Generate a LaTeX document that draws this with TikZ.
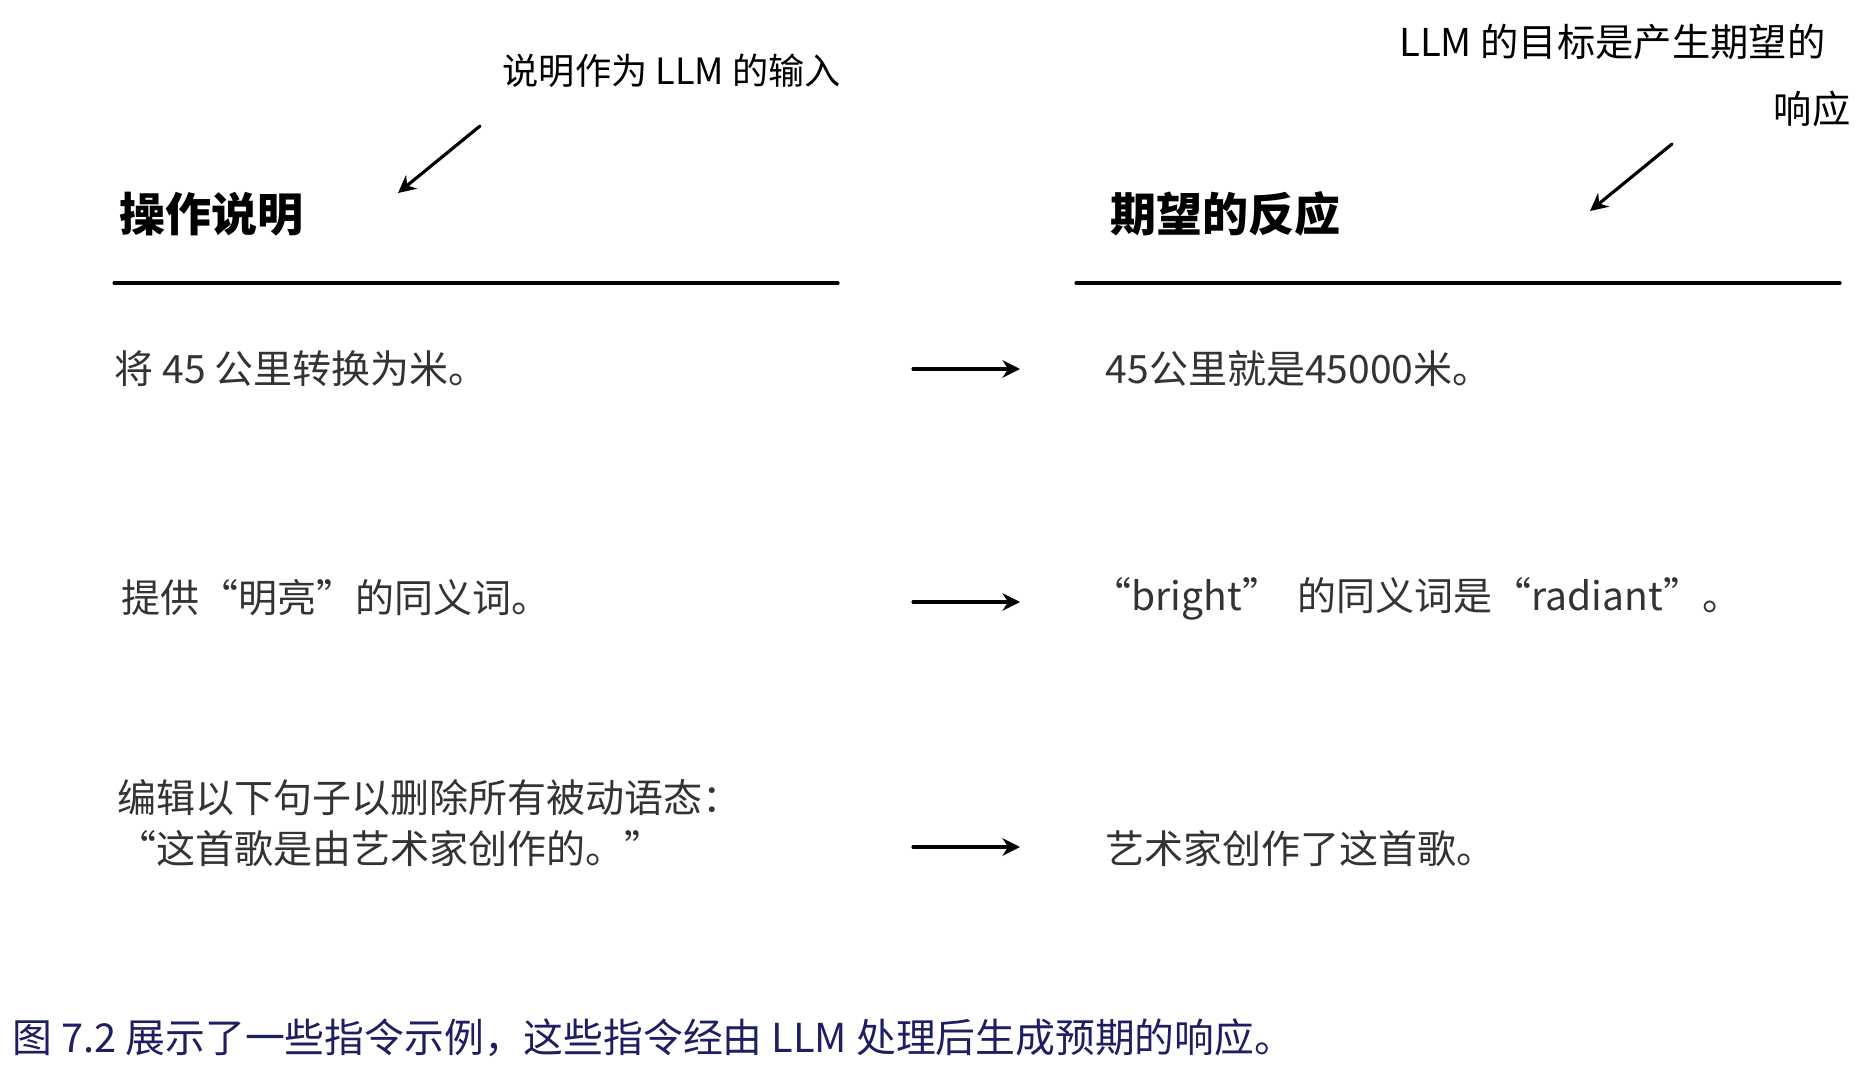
\documentclass[tikz,border=0pt]{standalone}
\usepackage{fontspec}
\setmainfont{Noto Sans CJK SC}
\usepackage{xcolor}
\usetikzlibrary{arrows.meta,positioning}
\definecolor{txtgray}{HTML}{333333}
\definecolor{capblue}{HTML}{1E1E62}
\tikzset{
  head/.style={anchor=west, inner sep=0pt, font=\fontsize{13.1}{15}\selectfont\bfseries},
  note/.style={inner sep=0pt, font=\fontsize{10.3}{16}\selectfont},
  item/.style={anchor=west, inner sep=0pt, text=txtgray, font=\fontsize{11.1}{14.5}\selectfont},
  rulel/.style={line width=0.9pt},
  goes/.style={line width=0.9pt, -{Stealth[length=5pt,width=5pt]}},
  every picture/.style={line cap=round, line join=round}
}

\begin{document}
\begin{tikzpicture}[scale=1.0]
  \useasboundingbox (0,0) rectangle (18.65,10.70);
  % column heads
  \node[head] (hinstr) at (1.19,8.56) {操作说明};
  \node[head] (hresp) at (11.10,8.56) {期望的反应};
  \coordinate (l1) at (1.14,7.87);
  \coordinate (l2) at (8.38,7.87);
  \coordinate (r1) at (10.76,7.87);
  \coordinate (r2) at (18.40,7.87);
  \draw[rulel] (l1)--(l2);
  \draw[rulel] (r1)--(r2);
  % notes on top
  \node[note,anchor=west] (ninput) at (5.02,9.99) {说明作为 LLM 的输入};
  \node[note,anchor=east,font=\fontsize{10.9}{16}\selectfont] (ngoal) at (18.26,10.28) {LLM 的目标是产生期望的};
  \node[note,anchor=east,font=\fontsize{10.9}{16}\selectfont] (ngoalb) at (18.51,9.61) {响应};
  \coordinate (p1) at (4.80,9.44);
  \coordinate (q1) at (3.98,8.77);
  \coordinate (p2) at (16.72,9.26);
  \coordinate (q2) at (15.90,8.59);
  \draw[goes] (p1)--(q1);
  \draw[goes] (p2)--(q2);
  % rows
  \node[item] (ia) at (1.14,7.01) {将 45 公里转换为米。};
  \node[item] (ra) at (11.05,7.01) {45公里就是45000米。};
  \node[item] (ib) at (1.21,4.72) {提供“明亮”的同义词。};
  \node[item] (rb) at (10.92,4.71) {“bright”\hspace{0.2em} 的同义词是“radiant”。};
  \node[item,align=left] (ic) at (1.17,2.465) {编辑以下句子以删除所有被动语态：\\“这首歌是由艺术家创作的。”};
  \node[item] (rc) at (11.05,2.21) {艺术家创作了这首歌。};
  \coordinate (a1) at (9.13,7.01);
  \coordinate (b1) at (10.20,7.01);
  \coordinate (a2) at (9.13,4.68);
  \coordinate (b2) at (10.20,4.68);
  \coordinate (a3) at (9.13,2.23);
  \coordinate (b3) at (10.20,2.23);
  \draw[goes] (a1)--(b1);
  \draw[goes] (a2)--(b2);
  \draw[goes] (a3)--(b3);
  % caption
  \node[anchor=west, inner sep=0pt, text=capblue, font=\fontsize{11.33}{13}\selectfont] (cap) at (0.12,0.32) {图 7.2 展示了一些指令示例，这些指令经由 LLM 处理后生成预期的响应。};
\end{tikzpicture}
\end{document}
